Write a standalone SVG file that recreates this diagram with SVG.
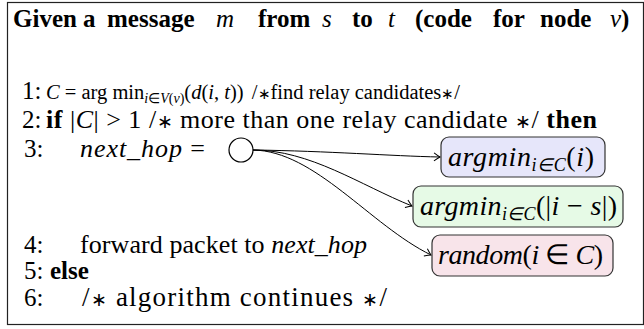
<svg xmlns="http://www.w3.org/2000/svg" width="644" height="329" viewBox="0 0 644 329">
<style>
.t{font-family:"Liberation Serif","Times New Roman",serif;font-size:25px;fill:#000}
.b{font-weight:bold}
.m{font-style:italic;font-weight:normal}
.u{font-style:normal}
.ast{font-size:0.72em;font-weight:normal}
.sub{font-size:14px}
.bsub{font-size:18px}
.bx{stroke:#333;stroke-width:1.2}
.bt{font-family:"Liberation Serif","Times New Roman",serif;font-size:28px;font-style:italic;fill:#000}
.c{fill:none;stroke:#000;stroke-width:1}
</style>
<defs>
<marker id="ah" markerUnits="userSpaceOnUse" markerWidth="12" markerHeight="12" refX="0" refY="0" viewBox="-8 -6 10 12" orient="auto">
<path d="M-6,-4 Q-2,-1 0,0 Q-2,1 -6,4" fill="none" stroke="#000" stroke-width="1"/>
</marker>
</defs>
<rect x="7.5" y="2.5" width="636" height="322" fill="#fff" stroke="#222" stroke-width="1.2"/>
<g id="code">
<text class="t b" y="27"><tspan x="13">Given</tspan><tspan x="83">a</tspan><tspan x="107">message</tspan><tspan x="216" class="m">m</tspan><tspan x="258">from</tspan><tspan x="322" class="m">s</tspan><tspan x="352">to</tspan><tspan x="388" class="m">t</tspan><tspan x="415">(code</tspan><tspan x="493">for</tspan><tspan x="540">node</tspan><tspan x="610"><tspan class="m">v</tspan>)</tspan></text>
<text class="t" x="22" y="99">1:</text>
<text class="t" x="46" y="99" style="font-size:20.5px"><tspan class="m">C</tspan> = arg min<tspan class="sub" dy="4"><tspan class="m">i</tspan>∈<tspan class="m">V</tspan>(<tspan class="m">v</tspan>)</tspan><tspan dy="-4">(</tspan><tspan class="m">d</tspan>(<tspan class="m">i</tspan>, <tspan class="m">t</tspan>))</text>
<text class="t" x="460" y="99" style="font-size:20.5px" text-anchor="end">/<tspan class="ast">∗</tspan>find relay candidates<tspan class="ast">∗</tspan>/</text>
<text class="t" x="22" y="128">2:</text>
<text class="t" x="46" y="128" style="font-size:26px" textLength="551" lengthAdjust="spacing"><tspan class="b">if</tspan> |<tspan class="m">C</tspan>| &gt; 1 /<tspan class="ast">∗</tspan> more than one relay candidate <tspan class="ast">∗</tspan>/ <tspan class="b">then</tspan></text>
<text class="t" x="24" y="157">3:</text>
<text class="t" x="80" y="157" style="font-size:26px" textLength="125" lengthAdjust="spacing"><tspan class="m">next_hop</tspan> =</text>
<text class="t" x="24" y="253">4:</text>
<text class="t" x="80" y="253" style="font-size:26px" textLength="287" lengthAdjust="spacing">forward packet to <tspan class="m">next_hop</tspan></text>
<text class="t" x="24" y="279">5:</text>
<text class="t b" x="50" y="279">else</text>
<text class="t" x="24" y="306">6:</text>
<text class="t" x="82" y="306" style="font-size:27px" textLength="305" lengthAdjust="spacing">/<tspan class="ast">∗</tspan> algorithm continues <tspan class="ast">∗</tspan>/</text>
</g>
<g id="connectors">
<path class="c" d="M253,150 C330,151 390,156 440,157" marker-end="url(#ah)"/>
<path class="c" d="M253,150 C310,150 360,185 412,206" marker-end="url(#ah)"/>
<path class="c" d="M253,150 C315,151 370,225 431,255" marker-end="url(#ah)"/>
</g>
<g id="n0"><circle cx="241" cy="150" r="12" fill="#fff" stroke="#000" stroke-width="1.2"/></g>
<g id="n1"><rect class="bx" x="441" y="137" width="164" height="40" rx="8" fill="#e6e6fa"/>
<text class="bt" x="448" y="166" textLength="146" lengthAdjust="spacing">argmin<tspan class="bsub" dy="5">i∈C</tspan><tspan dy="-5" class="u">(</tspan>i<tspan class="u">)</tspan></text></g>
<g id="n2"><rect class="bx" x="413" y="186" width="210" height="41" rx="8" fill="#e6fae6"/>
<text class="bt" x="420" y="215" textLength="197" lengthAdjust="spacing">argmin<tspan class="bsub" dy="5">i∈C</tspan><tspan dy="-5" class="u">(|</tspan>i<tspan class="u"> − </tspan>s<tspan class="u">|)</tspan></text></g>
<g id="n3"><rect class="bx" x="432" y="235" width="181" height="41" rx="8" fill="#f8e4ea"/>
<text class="bt" x="438" y="264" textLength="165" lengthAdjust="spacing">random<tspan class="u">(</tspan>i<tspan class="u"> ∈ </tspan>C<tspan class="u">)</tspan></text></g>
</svg>
